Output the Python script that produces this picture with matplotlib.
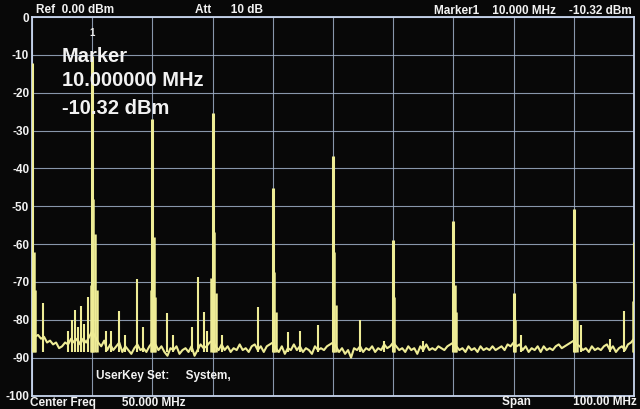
import numpy as np
import matplotlib
matplotlib.use("Agg")
import matplotlib.pyplot as plt

# ---------------- data ----------------
# harmonic peaks (MHz, dBm)
harm_freq = [0, 10, 20, 30, 40, 50, 60, 70, 80, 90, 100]
harm_level = [-12.2, -10.32, -27.0, -25.3, -45.3, -36.6, -59.0, -53.8, -73.0, -50.6, -59.4]

# shoulders next to the harmonics
shoulder_freq = [0.3, 0.5, 9.8, 10.2, 10.5, 10.8, 19.8, 20.2, 20.5, 29.8, 30.2, 30.5,
                 40.2, 40.5, 50.2, 50.5, 60.2, 70.2, 70.5, 80.2, 90.2, 90.5, 99.8]
shoulder_level = [-62, -72, -70.8, -48.2, -57.2, -72, -72, -58, -74, -69, -56.7, -73,
                  -67.3, -78, -62, -76, -74, -70.8, -78, -80, -70.4, -80, -75]

# other spurious lines
spur_freq = [1.9, 6.0, 6.6, 7.1, 7.6, 8.2, 8.7, 9.3, 12.3, 13.1, 14.4, 15.5, 17.4, 18.4,
             22.5, 23.5, 26.5, 27.5, 28.6, 29.1, 31.5, 37.6, 42.6, 44.5, 47.5, 54.5,
             58.5, 64.9, 81.3, 91.2, 96.0, 98.3]
spur_level = [-75.5, -83, -80, -77.5, -82, -76.3, -81, -74, -83, -83, -77.8, -84, -69.3, -82,
              -78.3, -84, -81.8, -68.6, -78, -83, -84, -76.5, -83.3, -83, -81.5, -80,
              -85.7, -85.5, -84, -81.5, -85, -77.8]

# noise floor, sampled every 0.5 MHz from 0 to 100 MHz
noise_level = [
    -82.5, -84.5, -84, -85, -84.5, -86, -85.5, -86.5, -86, -87.5, -87, -86, -86.5, -85, -86, -85, -86.5, -85, -86, -84.5, -83,
    -84.5, -86, -87, -85.5, -88, -86.5, -88, -87, -86, -88.5, -87, -88, -89, -87.5, -86.5, -88, -87.5, -88.5, -87, -86,
    -86.5, -88, -87, -88.5, -89.5, -87.5, -88, -87, -89, -88, -87.5, -88.5, -87, -89.5, -88, -86.5, -87.5, -87, -86, -85.5,
    -87, -88, -86.5, -88, -87, -88.5, -87.5, -88, -86.5, -88, -87.5, -88.5, -87, -86.5, -88, -87, -88.5, -87, -86.5, -86,
    -87.5, -88.5, -87, -89, -87.5, -88, -86.5, -88, -87, -88.5, -87.5, -88, -89, -87, -88, -87.5, -88, -87, -86.5, -86,
    -87, -88.5, -87.5, -89, -88, -90, -87.5, -88, -87, -88.5, -87.5, -88, -87, -88.5, -87.5, -88, -86.5, -87.5, -87, -86,
    -87, -88, -87.5, -88.5, -87, -88, -87.5, -89, -87, -88, -86.5, -88, -87.5, -88, -87, -87.5, -88, -87, -86.5, -86,
    -87, -88, -87.5, -88.5, -87, -88, -87.5, -88.5, -87, -88, -87.5, -88, -87, -88, -87.5, -87, -88, -86.5, -87, -86,
    -87, -86.5, -88, -87, -88.5, -87.5, -88, -87, -88.5, -87, -88, -87.5, -88, -87, -86.5, -87.5, -87, -86.5, -86, -85.5,
    -86.5, -87, -88, -87.5, -88.5, -87, -88, -87.5, -88, -87, -86.5, -88, -87, -88.5, -87.5, -87, -88, -86.5, -86, -85,
]
noise_freq = np.linspace(0, 100, len(noise_level))

y_ticks = [0, -10, -20, -30, -40, -50, -60, -70, -80, -90, -100]
x_ticks = [0, 10, 20, 30, 40, 50, 60, 70, 80, 90, 100]

# ---------------- styling ----------------
W, H = 640, 409
BG = "#080808"
TRACE = "#eeec96"
GRID = "#9fb0c8"
FRAME = "#c8d6ee"
TXT = "#f2f2f2"
FONT = "Liberation Sans"

fig = plt.figure(figsize=(W / 100, H / 100), dpi=100, facecolor=BG)
ax = fig.add_axes([32 / W, 1 - 395.5 / H, 602 / W, 378.5 / H], facecolor=BG)

ax.set_xlim(0, 100)
ax.set_ylim(-100, 0)
ax.set_xticks(x_ticks)
ax.set_yticks(y_ticks)
ax.set_xticklabels([])
ax.set_yticklabels([str(v) for v in y_ticks], color=TXT, fontsize=8.5,
                   fontweight="bold", fontfamily=FONT)
ax.tick_params(axis="both", length=0, pad=2)
ax.grid(True, color=GRID, linewidth=0.8, alpha=0.85)
for s in ax.spines.values():
    s.set_color(FRAME)
    s.set_linewidth(1.3)

# trace
ax.plot(noise_freq, noise_level, color=TRACE, linewidth=1.5, zorder=3)
ax.vlines(spur_freq, -88.5, spur_level, color=TRACE, linewidth=1.5, zorder=3)
ax.vlines(shoulder_freq, -88.5, shoulder_level, color=TRACE, linewidth=1.8, zorder=3)
ax.vlines(harm_freq, -88.5, harm_level, color=TRACE, linewidth=2.2, zorder=4)

# marker label
ax.text(10, -5.6, "1", color=TXT, fontsize=7, fontweight="bold",
        fontfamily=FONT, ha="center", va="bottom", zorder=5)

def ftext(x, y, s, size=9, ha="left", va="center"):
    fig.text(x / W, 1 - y / H, s, color=TXT, fontsize=size, fontweight="bold",
             fontfamily=FONT, ha=ha, va=va)

# header
ftext(36, 10, "Ref  0.00 dBm", 8.5)
ftext(195, 10, "Att      10 dB", 8.5)
ftext(632, 11, "Marker1    10.000 MHz    -10.32 dBm", 8.5, ha="right")

# marker box
ftext(62, 56, "Marker", 14.5)
ftext(62, 81, "10.000000 MHz", 14.5)
ftext(62, 108, "-10.32 dBm", 14.5)

# footer
ftext(96, 376, "UserKey Set:     System,", 8.5)
ftext(30, 403, "Center Freq        50.000 MHz", 8.5)
ftext(637, 402, "Span             100.00 MHz", 8.5, ha="right")

fig.savefig("out.png", dpi=100, facecolor=BG)
